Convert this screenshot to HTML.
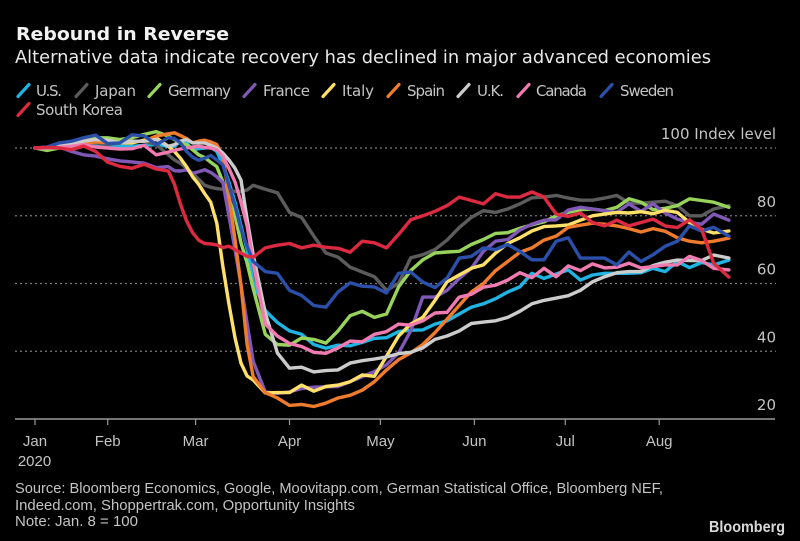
<!DOCTYPE html>
<html lang="en">
<head>
<meta charset="utf-8">
<title>Rebound in Reverse</title>
<style>
html,body{margin:0;padding:0;background:#000;}
svg{display:block;}
text{font-family:"DejaVu Sans","Liberation Sans",sans-serif;}
.small{font-family:"Liberation Sans",sans-serif;font-size:15px;fill:#c4c4c4;}
.legend{font-size:15px;fill:#c4c4c4;}
</style>
</head>
<body>
<svg id="chart" width="800" height="541" viewBox="0 0 800 541" xmlns="http://www.w3.org/2000/svg">
  <rect x="0" y="0" width="800" height="541" fill="#000"/>
  <text x="16" y="40" font-size="18" font-weight="700" fill="#f2f2f2" textLength="213" lengthAdjust="spacingAndGlyphs">Rebound in Reverse</text>
  <text x="15" y="63" font-size="17.5" fill="#e8e8e8" textLength="696" lengthAdjust="spacingAndGlyphs">Alternative data indicate recovery has declined in major advanced economies</text>
  <g id="legend"></g>
  <g id="grid"></g>
  <g id="series"></g>
  <g id="xaxis"></g>
  <g id="yaxis"></g>
  <text class="small" x="34.5" y="466" text-anchor="middle">2020</text>
  <text class="small" x="15" y="493" textLength="648" lengthAdjust="spacingAndGlyphs">Source: Bloomberg Economics, Google, Moovitapp.com, German Statistical Office, Bloomberg NEF,</text>
  <text class="small" x="15" y="510" textLength="340" lengthAdjust="spacingAndGlyphs">Indeed.com, Shoppertrak.com, Opportunity Insights</text>
  <text class="small" x="15" y="526" textLength="123" lengthAdjust="spacingAndGlyphs">Note: Jan. 8 = 100</text>
  <text x="709" y="532" style="font-family:'Liberation Sans',sans-serif" font-size="16" font-weight="700" fill="#d8d8d8" textLength="76" lengthAdjust="spacingAndGlyphs">Bloomberg</text>
</svg>
<script>
// Days since Jan. 8, 2020
const days = [0,4,8,12,16,20,24,28,32,36,40,44,
  46,48,50,52,54,56,58,60,62,64,66,68,70,72,
  76,80,84,88,92,96,100,104,108,112,116,120,124,
  128,132,136,140,144,148,152,156,160,164,168,172,176,
  180,184,188,192,196,200,204,208,212,216,220,224,229];

const usValues = [100,100,100.3,100.5,100.8,101,100.8,100.5,100.5,100.8,101,100.5,
  100.5,102,101.5,99.5,99.8,100,100.2,99,95,90,84,77,70,60.5,
  52,48.5,46,45,42,40.9,41.8,41.6,42.6,43.8,44,45.8,46.2,
  46.3,48,49,51,53,54,55.5,57.5,59,63,61.5,62.8,64,
  61,62.5,63,63,63,63.2,64.5,63.5,66.5,64.7,66.2,65.5,66.9];
const japanValues = [100,100,100.5,101,101.5,101.5,101,101.5,102,102,101,98,
  96.5,95.5,94,92.5,90.8,89,88.4,88,87.8,87.5,87.2,87.2,87.6,89,
  87.8,86.8,81,79.5,74,69,67.8,64.8,63.4,62,58,60,67.6,
  68.5,70,72.8,76.5,79.5,81.5,81,82,83.5,85.3,85.5,86,85.2,
  84.6,84.6,85.2,86,83.8,83.7,84,84.3,83,80,80,82,83];
const germanyValues = [100,99.3,100,101,102.5,103,103,102.5,103,104,104.8,103.5,
  102.5,101.5,101,99.5,98,97.2,95.8,94.5,90,85,80,72,66,58.5,
  45,42,41.8,43.9,43.5,42.4,46,50.5,51.8,50,51,59,63.8,
  67,69,69.3,69.5,71.5,73,74.8,75,76.3,77.3,78.2,80,81,
  81.8,82,81.5,82.5,85,84,81.8,82.2,83,85,84.5,84,82.5];
const franceValues = [100,100,100.3,99,98,97.6,96.8,96.2,95.9,95.5,94.2,94.5,
  93.3,93.2,93.6,92.5,93,93.6,92.8,91.5,89.8,80,70,59.5,48.3,37,
  28,27.6,28,29,29.4,29.5,29.6,31,32.5,34,36,39.5,46,
  56,56,58,61.5,64.5,69.5,72.5,73,75.8,77.5,78.7,78.8,81.7,
  82.5,82,81.5,81,83.5,81.3,83.5,80.8,79,78,77.5,80.5,78.7];
const italyValues = [100,100.2,100.8,101,101.5,102,102,101.5,101.5,102.3,103,100.5,
  99,97,94.5,91.5,89.3,86.5,84,77.8,65,54,44,36.5,32.7,31.5,
  27.7,27.8,27.8,30,28.2,29.6,30,31,33,32.6,38.5,44.5,48,
  50,55,60.5,62.5,64.5,65.5,69,71.8,73.5,75.5,76.8,77,77.3,
  78.7,80,80.5,81,80.8,81.2,80.6,81.6,81,78,76,74.9,75.5];
const spainValues = [100,100,100.5,101,101.5,101.8,101.6,101.5,102,102,103.5,104.2,
  104.5,103.7,102.8,101.5,102,102.3,101.8,101,97.5,86,73,59.5,42,32.5,
  27.8,26.2,24,24.3,23.7,24.7,26.2,27,28.5,31,34.5,37.5,39.5,
  42,45.5,49.5,53.5,57.5,60,63.8,66.5,69.2,70.5,72.8,74,76.6,
  77.2,77.8,77.5,77,76.2,75.2,76.2,75.4,73.5,72.5,72,72.5,73.4];
const ukValues = [100,100,100.5,101,102,102.5,102.3,101.5,102,102,102.5,100.5,
  101,102,102.5,101.5,101.5,101.5,100.8,100,98.5,96.5,94,90.5,79,68.5,
  51.3,39.5,35,35.3,33.9,34.3,34.5,36.5,37.2,37.7,38.3,39.3,39.7,
  41,43.5,44.5,46,48.2,48.6,49,50,51.8,54,55,55.7,56.4,
  58,60.5,62,63.2,63.5,63.5,65.3,66.3,66.9,66.8,66.8,68.4,67.5];
const canadaValues = [100,100,100.2,100.5,101,100.3,100,99.7,99.8,100.8,98,98.8,
  99.3,99.7,100,100.3,100.5,100.2,100,99.5,97.5,94,90,84,77,66,
  48,44.5,42.3,41.4,39.7,39.4,41,43,42.8,45,45.8,48,47.7,
  49,51.3,51.5,56,56.8,58.9,59.5,61,63.2,61.7,64.5,62,65.2,
  63.8,65.8,64.6,64.8,66,64.6,65,65.5,65.5,68,66.8,64.5,64];
const swedenValues = [100,100.3,101.5,102,103,103.8,101.3,101.5,103.9,103.6,101,103,
  102.8,101.5,99,97.3,96.4,97,97.8,96.5,95,89,83,76,71,66.5,
  63.5,63,58,56.5,53.5,53,57.5,60.2,59.2,59,57.2,63,63.4,
  60.4,58.8,61.6,67.5,68,70.5,70,71.5,69.5,67,67,72.5,73.5,
  67.5,67.5,67.5,65.5,69.3,66.5,68.5,71,72.5,77,75.5,76.6,74];
const southKoreaValues = [100,100.2,100,99.5,100.6,99,95.8,94.6,94,95.2,93.8,93.2,
  89.3,83.5,78.5,75,72.8,71.8,71.7,71.4,70.6,71,70,69,68,67.8,
  70.5,71.3,71.8,70.5,71.3,70.7,70.4,69.2,72.5,72,70.5,74.5,78.8,
  80,81.3,83,85.5,84.5,83.5,86.5,85.5,85.5,87,85.5,80.5,79.8,
  80.8,78,77,78.7,77,78,79,77,76.5,78.8,76,66,61.9];

const seriesNames = ["U.S.","Japan","Germany","France","Italy","Spain","U.K.","Canada","Sweden","South Korea"];
const seriesValues = [usValues,japanValues,germanyValues,franceValues,italyValues,spainValues,ukValues,canadaValues,swedenValues,southKoreaValues];
const monthLabels = ["Jan","Feb","Mar","Apr","May","Jun","Jul","Aug"];
const monthDays = [0,24,53,84,114,145,175,206];
const yTicks = [100,80,60,40,20];

const seriesColors = ["#1fb4e2","#5c5c5c","#98d45c","#8058b8","#ffe068","#ef7b2c","#cccccc","#f07bb0","#2b50aa","#dc2a40"];
const legendSwatchX = [17,75,148,243,322,387,457,517,600,17];
const legendTextX = [36,95,168,263,342,407,477,536,620,36];
const legendWidths = [26,41,63,47,32,38,27,51,54,87];

const NS = "http://www.w3.org/2000/svg";
function xScale(d){ return 35 + 3.03 * d; }
function yScale(v){ return 419 - (v - 20) * 3.3875; }
function slug(s){ return s.toLowerCase().replace(/[^a-z]+/g,"-").replace(/-$/,""); }
function make(tag, parent, attrs){
  const el = document.createElementNS(NS, tag);
  for (const k in attrs) el.setAttribute(k, attrs[k]);
  parent.appendChild(el);
  return el;
}

const gridG = document.getElementById("grid");
yTicks.slice(0,4).forEach(function(v){
  const gl = make("line", gridG, {x1:15, x2:776, y1:yScale(v), y2:yScale(v), stroke:"#7a7a7a", "stroke-width":1.2, "stroke-dasharray":"2 3"});
  
  
});

const seriesG = document.getElementById("series");
seriesValues.forEach(function(vals, i){
  const pts = vals.map(function(v, j){ return xScale(days[j]).toFixed(1) + "," + yScale(v).toFixed(1); }).join(" ");
  const pl = make("polyline", seriesG, {points:pts, fill:"none", stroke:seriesColors[i], "stroke-width":3.4, "stroke-linejoin":"round", "stroke-linecap":"round"});
  
  
});

const xG = document.getElementById("xaxis");
const axisLine = make("line", xG, {x1:15, x2:775, y1:419, y2:419, stroke:"#9a9a9a", "stroke-width":1.6});


monthLabels.forEach(function(label, i){
  const x = xScale(monthDays[i]);
  const tick = make("line", xG, {x1:x, x2:x, y1:419, y2:425, stroke:"#9a9a9a", "stroke-width":1.2});
  
  
  const t = make("text", xG, {x:x, y:446, "text-anchor":"middle", "class":"small"});
  
  
  t.textContent = label;
});

const yG = document.getElementById("yaxis");
yTicks.forEach(function(v){
  const t = make("text", yG, {x:776, y:yScale(v) - 9, "text-anchor":"end", "font-size":15, fill:"#c4c4c4"});
  
  
  t.textContent = v === 100 ? "100 Index level" : String(v);
});

const legendG = document.getElementById("legend");
seriesNames.forEach(function(name, i){
  const base = i === 9 ? 115 : 96;
  const x = legendSwatchX[i];
  const sw = make("line", legendG, {x1:x + 1, y1:base + 0.5, x2:x + 12, y2:base - 11.5, stroke:seriesColors[i], "stroke-width":3.2, "stroke-linecap":"round"});
  
  
  const t = make("text", legendG, {x:legendTextX[i], y:base, "class":"legend", textLength:legendWidths[i], lengthAdjust:"spacing"});
  
  
  t.textContent = name;
});
</script>
</body>
</html>
